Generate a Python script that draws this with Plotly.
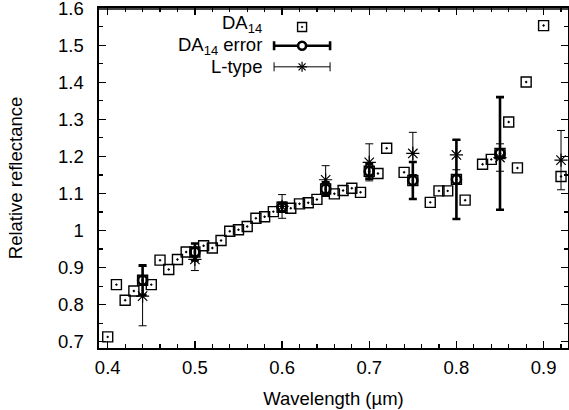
import plotly.graph_objects as go

# DA14 spectrum (squares)
da_x = [0.40, 0.41, 0.42, 0.43, 0.44, 0.45, 0.46, 0.47, 0.48, 0.49, 0.50, 0.51,
        0.52, 0.53, 0.54, 0.55, 0.56, 0.57, 0.58, 0.59, 0.60, 0.61, 0.62, 0.63,
        0.64, 0.65, 0.66, 0.67, 0.68, 0.69, 0.70, 0.71, 0.72, 0.74, 0.75, 0.77,
        0.78, 0.79, 0.80, 0.81, 0.83, 0.84, 0.85, 0.86, 0.87, 0.88, 0.90, 0.92]
da_y = [0.713, 0.854, 0.812, 0.837, 0.866, 0.854, 0.920, 0.895, 0.922, 0.942, 0.942, 0.959,
        0.953, 0.973, 0.998, 1.002, 1.011, 1.033, 1.037, 1.051, 1.063, 1.060, 1.072, 1.075,
        1.084, 1.112, 1.099, 1.108, 1.114, 1.103, 1.160, 1.154, 1.222, 1.157, 1.135, 1.076,
        1.107, 1.107, 1.138, 1.082, 1.179, 1.192, 1.208, 1.293, 1.169, 1.401, 1.553, 1.146]

# DA14 binned values with errors (circles)
err_x = [0.44, 0.50, 0.60, 0.65, 0.70, 0.75, 0.80, 0.85]
err_y = [0.866, 0.942, 1.063, 1.112, 1.160, 1.135, 1.138, 1.208]
err_e = [0.040, 0.023, 0.012, 0.018, 0.020, 0.050, 0.107, 0.152]

# L-type average spectrum (stars)
lt_x = [0.44, 0.50, 0.60, 0.65, 0.70, 0.75, 0.80, 0.85, 0.92]
lt_y = [0.823, 0.922, 1.065, 1.137, 1.184, 1.208, 1.204, 1.197, 1.190]
lt_e = [0.080, 0.030, 0.032, 0.038, 0.050, 0.057, 0.040, 0.037, 0.080]

x_ticks = [0.4, 0.5, 0.6, 0.7, 0.8, 0.9]
y_ticks = [0.7, 0.8, 0.9, 1.0, 1.1, 1.2, 1.3, 1.4, 1.5, 1.6]

FONT = "Liberation Sans, Arial, sans-serif"
FS = 18.5
X_RANGE = [0.39, 0.928]
Y_RANGE = [0.683, 1.6005]

fig = go.Figure()
fig.add_trace(go.Scatter(
    x=da_x, y=da_y, mode="markers", name="DA<sub>14</sub>", showlegend=False,
    marker=dict(symbol="square-open-dot", size=10, color="black",
                line=dict(width=1.4, color="black"))))
fig.add_trace(go.Scatter(
    x=err_x, y=err_y, mode="markers", name="DA<sub>14</sub> error", showlegend=False,
    marker=dict(symbol="circle-open", size=9, color="black",
                line=dict(width=2.6, color="black")),
    error_y=dict(type="data", array=err_e, visible=True, color="black",
                 thickness=2.6, width=4)))
fig.add_trace(go.Scatter(
    x=lt_x, y=lt_y, mode="markers", name="L-type", showlegend=False,
    marker=dict(symbol="asterisk-open", size=11, color="black",
                line=dict(width=1.2, color="black")),
    error_y=dict(type="data", array=lt_e, visible=True, color="black",
                 thickness=1, width=4)))

# ---- custom gnuplot-style legend (text right-aligned, sample on the right)
shapes = []
annotations = []
text_x = 0.352
samp_x = 0.433
rows = [0.953, 0.889, 0.827]
labels = ["DA<sub>14</sub>", "DA<sub>14</sub> error", "L-type"]

def pline(xa, ya, x0, y0, x1, y1, w):
    return dict(type="line", xref="paper", yref="paper",
                xsizemode="pixel", ysizemode="pixel", xanchor=xa, yanchor=ya,
                x0=x0, y0=y0, x1=x1, y1=y1, line=dict(color="black", width=w))

for lab, ry in zip(labels, rows):
    annotations.append(dict(text=lab, x=text_x, y=ry, xref="paper", yref="paper",
                            xanchor="right", yanchor="middle", showarrow=False,
                            font=dict(family=FONT, size=FS, color="black")))
# square sample
shapes.append(dict(type="rect", xref="paper", yref="paper", xsizemode="pixel",
                   ysizemode="pixel", xanchor=samp_x, yanchor=rows[0],
                   x0=-4.5, x1=4.5, y0=-7.5, y1=1.5,
                   line=dict(color="black", width=1.4)))
shapes.append(dict(type="rect", xref="paper", yref="paper", xsizemode="pixel",
                   ysizemode="pixel", xanchor=samp_x, yanchor=rows[0],
                   x0=-0.7, x1=0.7, y0=-3.7, y1=-2.3, fillcolor="black",
                   line=dict(color="black", width=0.5)))
# error samples (thick / thin)
for ry, w, cap in [(rows[1], 2.6, 4.5), (rows[2], 1.0, 4.5)]:
    shapes.append(pline(samp_x, ry, -28, 0, 28, 0, w))
    shapes.append(pline(samp_x, ry, -28, -cap, -28, cap, w))
    shapes.append(pline(samp_x, ry, 28, -cap, 28, cap, w))
shapes.append(dict(type="circle", xref="paper", yref="paper", xsizemode="pixel",
                   ysizemode="pixel", xanchor=samp_x, yanchor=rows[1],
                   x0=-4, x1=4, y0=-4, y1=4, fillcolor="white",
                   line=dict(color="black", width=2.6)))
# star sample
s = 5
for (a, b, c, d) in [(-s, 0, s, 0), (0, -s, 0, s), (-s * 0.7, -s * 0.7, s * 0.7, s * 0.7),
                     (-s * 0.7, s * 0.7, s * 0.7, -s * 0.7)]:
    shapes.append(pline(samp_x, rows[2], a, b, c, d, 1.2))

# top frame line, drawn just inside the plot edge
shapes.append(dict(type="line", xref="paper", yref="paper", x0=0, x1=1, y0=0.997, y1=0.997,
                   layer="above", line=dict(color="black", width=1.6)))

fig.update_layout(
    width=569, height=410,
    margin=dict(l=99, r=1, t=8, b=62, autoexpand=False),
    paper_bgcolor="white", plot_bgcolor="white",
    font=dict(family=FONT, size=FS, color="black"),
    shapes=shapes, annotations=annotations, showlegend=False,
)
fig.update_xaxes(
    range=X_RANGE, tickvals=x_ticks, ticktext=[f"{v:.1f}" for v in x_ticks],
    ticks="inside", ticklen=7, tickwidth=1.4, tickcolor="black",
    minor=dict(dtick=0.02, tick0=0.4, ticks="inside", ticklen=4, tickwidth=1.2,
               tickcolor="black", showgrid=False),
    showline=True, linewidth=1.6, linecolor="black", mirror="ticks",
    showgrid=False, zeroline=False, ticklabelstandoff=2, ticklabeloverflow="allow",
    title=dict(text="Wavelength (µm)", standoff=15, font=dict(family=FONT, size=FS)),
    tickfont=dict(family=FONT, size=FS),
)
fig.update_yaxes(
    range=Y_RANGE, tickvals=y_ticks,
    ticktext=[("1" if abs(v - 1) < 1e-9 else f"{v:.1f}") for v in y_ticks],
    ticks="inside", ticklen=7, tickwidth=1.4, tickcolor="black",
    minor=dict(dtick=0.05, tick0=0.7, ticks="inside", ticklen=4, tickwidth=1.2,
               tickcolor="black", showgrid=False),
    showline=True, linewidth=1.6, linecolor="black", mirror="ticks",
    showgrid=False, zeroline=False, ticklabelstandoff=10, ticklabeloverflow="allow",
    title=dict(text="Relative reflectance", standoff=30, font=dict(family=FONT, size=FS)),
    tickfont=dict(family=FONT, size=FS),
)

fig.write_html("out.html", config={"staticPlot": True},
               post_script="document.body.style.margin='0';"
               "document.body.style.padding='0';")
